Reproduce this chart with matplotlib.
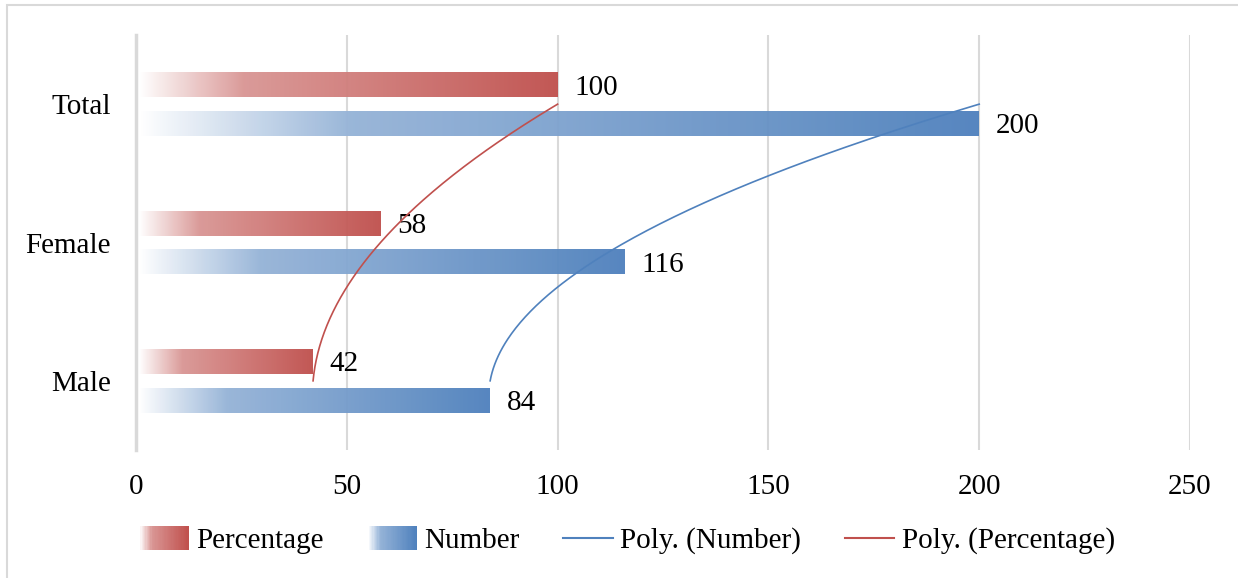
import numpy as np
import matplotlib.pyplot as plt
from matplotlib.colors import to_rgb
from matplotlib.patches import Rectangle
from matplotlib.legend_handler import HandlerBase
from matplotlib.lines import Line2D

categories = ['Male', 'Female', 'Total']
percentage = [42, 58, 100]
number = [84, 116, 200]
xticks = [0, 50, 100, 150, 200, 250]

red = '#C0504D'
blue = '#4F81BD'

plt.rcParams['font.family'] = ['Liberation Serif', 'DejaVu Serif']
plt.rcParams['font.size'] = 21


def ramp(color, n=256):
    # white -> light tint -> full colour, left to right
    c = np.array(to_rgb(color))
    w = np.ones(3)
    s = np.linspace(0, 1, n)
    f = np.interp(s, [0, 0.25, 1], [0, 0.6, 1])
    return w + (c - w) * f[:, None]


def gradient_barh(ax, y, width, h, color):
    img = ramp(color)[None, :, :]
    ax.imshow(img, extent=[0.8, width, y - h / 2, y + h / 2], aspect='auto',
              interpolation='bilinear', zorder=2, alpha=0.96)


class GradientHandler(HandlerBase):
    def __init__(self, color):
        super().__init__()
        self.color = color

    def create_artists(self, legend, orig_handle, xdescent, ydescent,
                       width, height, fontsize, trans):
        cols = ramp(self.color, 40)
        n = len(cols)
        out = []
        for i, c in enumerate(cols):
            r = Rectangle((-xdescent + width * i / n, -ydescent - 0.1 * height),
                          width / n * 1.05, height * 1.2, facecolor=c,
                          edgecolor='none', transform=trans)
            out.append(r)
        return out


fig = plt.figure(figsize=(12.38, 5.78), dpi=100)
ax = fig.add_axes([136 / 1238, 1 - 450 / 578, (1190 - 136) / 1238, 415 / 578])

y = np.arange(len(categories))
h = 0.18
off = 0.14
for i in range(len(categories)):
    gradient_barh(ax, y[i] + off, percentage[i], h, red)
    gradient_barh(ax, y[i] - off, number[i], h, blue)
    ax.annotate(str(percentage[i]), (percentage[i], y[i] + off), xytext=(12, -2),
                textcoords='offset points', va='center', ha='left')
    ax.annotate(str(number[i]), (number[i], y[i] - off), xytext=(12, -2),
                textcoords='offset points', va='center', ha='left')

# second order polynomial trendlines (value as a function of category index)
t = np.linspace(0, 2, 200)
pn = np.polyfit(y, number, 2)
pp = np.polyfit(y, percentage, 2)
ax.plot(np.polyval(pn, t), t, color=blue, lw=1.2, zorder=3)
ax.plot(np.polyval(pp, t), t, color=red, lw=1.2, zorder=3)

ax.set_xlim(0, 250)
ax.set_ylim(-0.5, 2.5)
ax.set_xticks(xticks)
ax.set_yticks(y)
ax.set_yticklabels(categories)
ax.tick_params(axis='x', length=0, pad=17)
ax.tick_params(axis='y', length=0, pad=18)
ax.grid(axis='x', color='#D9D9D9', lw=1.5, zorder=0)
ax.set_axisbelow(True)
for s in ['top', 'right', 'bottom']:
    ax.spines[s].set_visible(False)
ax.spines['left'].set_color('#D9D9D9')
ax.spines['left'].set_linewidth(2.5)

handles = [Rectangle((0, 0), 1, 1), Rectangle((0, 0), 1, 1),
           Line2D([], [], color=blue, lw=1.5), Line2D([], [], color=red, lw=1.5)]
labels = ['Percentage', 'Number', 'Poly. (Number)', 'Poly. (Percentage)']
fig.legend(handles, labels, ncol=4, loc='center', bbox_to_anchor=(627 / 1238, 1 - 541 / 578),
           frameon=False, handlelength=1.7, handletextpad=0.25, columnspacing=1.5,
           handler_map={handles[0]: GradientHandler(red), handles[1]: GradientHandler(blue)})

# outer chart border
fig.add_artist(Rectangle((7 / 1238, -0.1), 1.2, 1 - 5 / 578 + 0.1, transform=fig.transFigure,
                         fill=False, edgecolor='#D9D9D9', lw=1.5))

fig.savefig('out.png', dpi=100)
